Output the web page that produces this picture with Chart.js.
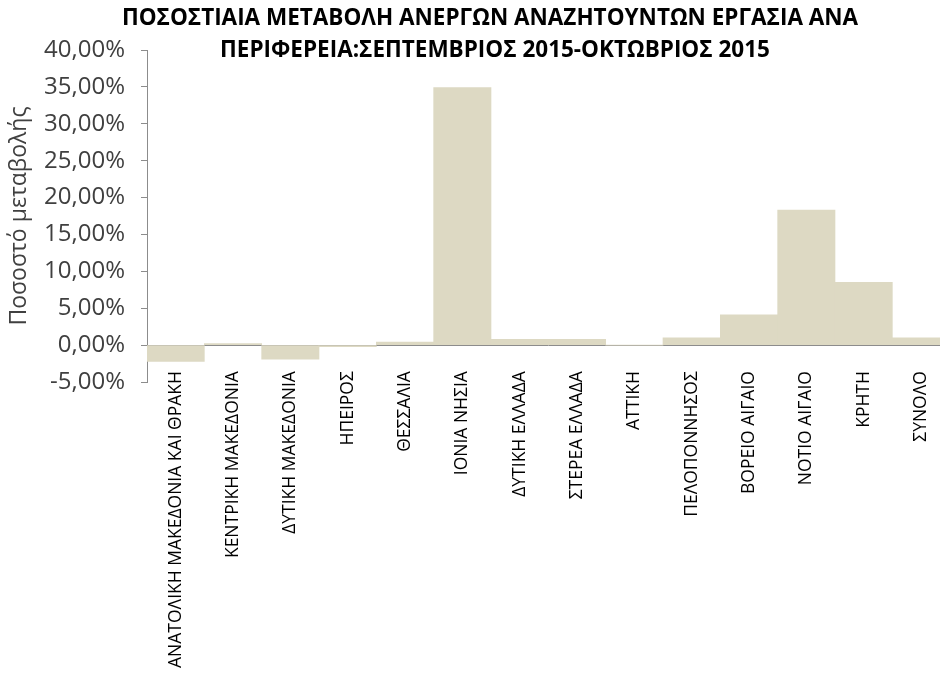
<!DOCTYPE html>
<html>
<head>
<meta charset="utf-8">
<script src="https://cdn.jsdelivr.net/npm/chart.js@4.4.1/dist/chart.umd.min.js"></script>
<style>
  html, body { margin: 0; padding: 0; background: #fff; overflow: hidden; }
  #wrap { position: relative; width: 960px; height: 677px; }
  #title {
    position: absolute; left: 0; top: 1px; width: 980px; text-align: center;
    font-family: "Open Sans", sans-serif; font-weight: bold; font-size: 22.5px;
    line-height: 32px; color: #000;
  }
  #title span { padding-left: 10px; }
</style>
</head>
<body>
<div id="wrap">
  <canvas id="chart" width="960" height="677"></canvas>
  <div id="title">ΠΟΣΟΣΤΙΑΙΑ ΜΕΤΑΒΟΛΗ ΑΝΕΡΓΩΝ ΑΝΑΖΗΤΟΥΝΤΩΝ ΕΡΓΑΣΙΑ ΑΝΑ<br><span>ΠΕΡΙΦΕΡΕΙΑ:ΣΕΠΤΕΜΒΡΙΟΣ 2015-ΟΚΤΩΒΡΙΟΣ 2015</span></div>
</div>
<script>
const regions = [
  "ΑΝΑΤΟΛΙΚΗ ΜΑΚΕΔΟΝΙΑ ΚΑΙ ΘΡΑΚΗ", "ΚΕΝΤΡΙΚΗ ΜΑΚΕΔΟΝΙΑ", "ΔΥΤΙΚΗ ΜΑΚΕΔΟΝΙΑ",
  "ΗΠΕΙΡΟΣ", "ΘΕΣΣΑΛΙΑ", "ΙΟΝΙΑ ΝΗΣΙΑ", "ΔΥΤΙΚΗ ΕΛΛΑΔΑ", "ΣΤΕΡΕΑ ΕΛΛΑΔΑ",
  "ΑΤΤΙΚΗ", "ΠΕΛΟΠΟΝΝΗΣΟΣ", "ΒΟΡΕΙΟ ΑΙΓΑΙΟ", "ΝΟΤΙΟ ΑΙΓΑΙΟ", "ΚΡΗΤΗ", "ΣΥΝΟΛΟ"
];
const changePct = [-2.2, 0.2, -1.9, -0.2, 0.4, 34.9, 0.8, 0.8, 0.0, 1.0, 4.1, 18.3, 8.5, 1.0];
const yMin = -5, yMax = 40, yStep = 5;

const fmt = (v) => v.toFixed(2).replace(".", ",") + "%";

new Chart(document.getElementById("chart"), {
  type: "bar",
  data: {
    labels: regions,
    datasets: [{
      data: changePct,
      backgroundColor: "#ddd9c3",
      borderWidth: 0,
      barPercentage: 1,
      categoryPercentage: 1
    }]
  },
  options: {
    responsive: false,
    animation: false,
    layout: { padding: { top: 50, left: 6, right: 0, bottom: 295 } },
    plugins: { legend: { display: false }, tooltip: { enabled: false } },
    scales: {
      x: {
        position: { y: 0 },
        z: 1,
        grid: { display: false },
        border: { display: true, color: "#8c8c8c", width: 1 },
        ticks: {
          minRotation: 90, maxRotation: 90, autoSkip: false, padding: 18,
          color: "#000", font: { family: "Open Sans", size: 17.5 }
        }
      },
      y: {
        min: yMin, max: yMax,
        afterFit: (scale) => { scale.width = 141; },
        border: { display: true, color: "#8c8c8c", width: 1 },
        grid: { drawOnChartArea: false, drawTicks: true, tickLength: 6, color: "#8c8c8c" },
        ticks: {
          stepSize: yStep, padding: 16, color: "#404040",
          font: { family: "Open Sans", size: 24 },
          callback: (v) => fmt(v)
        },
        title: {
          display: true, text: "Ποσοστό μεταβολής", color: "#404040",
          font: { family: "Open Sans", size: 23 }, padding: { top: 0, bottom: 0 }
        }
      }
    }
  }
});
</script>
</body>
</html>
